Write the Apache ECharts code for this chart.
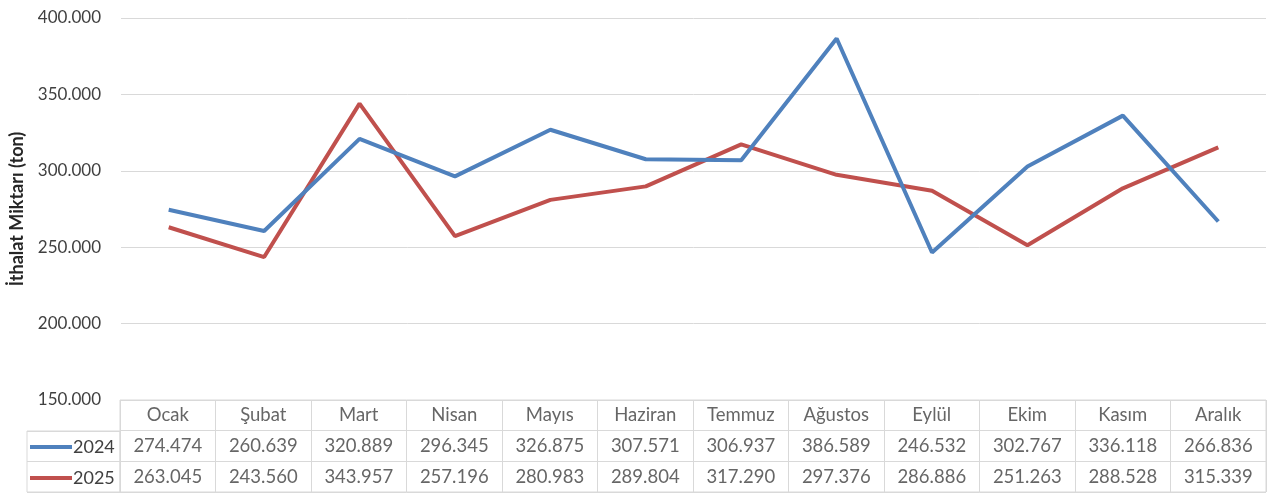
<!DOCTYPE html>
<html>
<head>
<meta charset="utf-8">
<title>İthalat Miktarı</title>
<script src="https://cdn.jsdelivr.net/npm/echarts@6/dist/echarts.min.js"></script>
<style>
  html, body { margin: 0; padding: 0; background: #fff; }
  #chart { width: 1271px; height: 493px; }
</style>
</head>
<body>
<div id="chart"></div>
<script>
// aylar
var months = ["Ocak", "Şubat", "Mart", "Nisan", "Mayıs", "Haziran", "Temmuz", "Ağustos", "Eylül", "Ekim", "Kasım", "Aralık"];
var years = ["2024", "2025"];
// ton
var data2024 = [274474, 260639, 320889, 296345, 326875, 307571, 306937, 386589, 246532, 302767, 336118, 266836];
var data2025 = [263045, 243560, 343957, 257196, 280983, 289804, 317290, 297376, 286886, 251263, 288528, 315339];
var yTicks = { min: 150000, max: 400000, step: 50000 };

var FONT = "Lato";
var GRID_C = "#d9d9d9";
var TXT_C = "#404040";

// 274474 -> "274.474"
function fmt(v) {
    return String(v).replace(/\B(?=(\d{3})+(?!\d))/g, ".");
}

// tablo hücreleri
var cells = [];
for (var i = 0; i < months.length; i++) {
    cells.push([i, 0, months[i]]);
    cells.push([i, 1, fmt(data2024[i])]);
    cells.push([i, 2, fmt(data2025[i])]);
}

var myChart = echarts.init(document.getElementById("chart"));

var option = {
    animation: false,
    textStyle: { fontFamily: FONT },
    color: ["#4f81bd", "#c0504d"],
    legend: {
        data: years,
        orient: "vertical",
        left: 30,
        top: 437,
        itemWidth: 42,
        itemHeight: 4,
        itemGap: 11,
        icon: "rect",
        padding: 0,
        textStyle: { fontFamily: FONT, fontSize: 18, color: TXT_C, lineHeight: 20, padding: [0, 0, 0, -4] },
        selectedMode: false
    },
    grid: [
        { left: 120, top: 18, width: 1146, height: 382 },                   // grafik
        { left: 120, top: 400, width: 1146, height: 92, show: true, borderColor: GRID_C, borderWidth: 1 }, // tablo
        { left: 27, top: 431, width: 93, height: 61, show: true, borderColor: GRID_C, borderWidth: 1 }     // sol sütun
    ],
    xAxis: [
        {
            gridIndex: 0, type: "category", data: months, boundaryGap: true,
            axisLine: { show: false }, axisTick: { show: false }, axisLabel: { show: false }
        },
        {
            gridIndex: 1, type: "category", data: months, boundaryGap: true,
            axisLine: { show: false }, axisTick: { show: false }, axisLabel: { show: false },
            splitLine: { show: true, interval: 0, lineStyle: { color: GRID_C, width: 1 } }
        },
        {
            gridIndex: 2, type: "value", show: false
        }
    ],
    yAxis: [
        {
            gridIndex: 0, type: "value",
            min: yTicks.min, max: yTicks.max, interval: yTicks.step,
            name: "İthalat Miktarı (ton)",
            nameLocation: "middle",
            nameGap: 95,
            nameTextStyle: { fontFamily: FONT, fontSize: 18, fontWeight: "bold", color: "#262626" },
            axisLine: { show: false }, axisTick: { show: false },
            axisLabel: { formatter: fmt, fontSize: 17, color: TXT_C, margin: 20 },
            splitLine: { lineStyle: { color: GRID_C, width: 1 } }
        },
        {
            gridIndex: 1, type: "category", data: [""].concat(years), inverse: true,
            axisLine: { show: false }, axisTick: { show: false }, axisLabel: { show: false },
            splitLine: { show: true, interval: 0, lineStyle: { color: GRID_C, width: 1 } }
        },
        {
            gridIndex: 2, type: "category", data: years, inverse: true,
            axisLine: { show: false }, axisTick: { show: false }, axisLabel: { show: false },
            splitLine: { show: true, interval: 0, lineStyle: { color: GRID_C, width: 1 } }
        }
    ],
    series: [
        {
            name: "2024", type: "line", xAxisIndex: 0, yAxisIndex: 0,
            data: data2024, symbol: "none", lineStyle: { width: 4 }, z: 3
        },
        {
            name: "2025", type: "line", xAxisIndex: 0, yAxisIndex: 0,
            data: data2025, symbol: "none", lineStyle: { width: 4 }, z: 2
        },
        {
            name: "tablo", type: "scatter", xAxisIndex: 1, yAxisIndex: 1,
            data: cells, symbolSize: 1, itemStyle: { color: "rgba(0,0,0,0)" },
            silent: true,
            label: {
                show: true, position: "inside",
                formatter: function (p) { return p.value[2]; },
                fontFamily: FONT, fontSize: 18.5, color: TXT_C
            }
        }
    ]
};

myChart.setOption(option);
</script>
</body>
</html>
